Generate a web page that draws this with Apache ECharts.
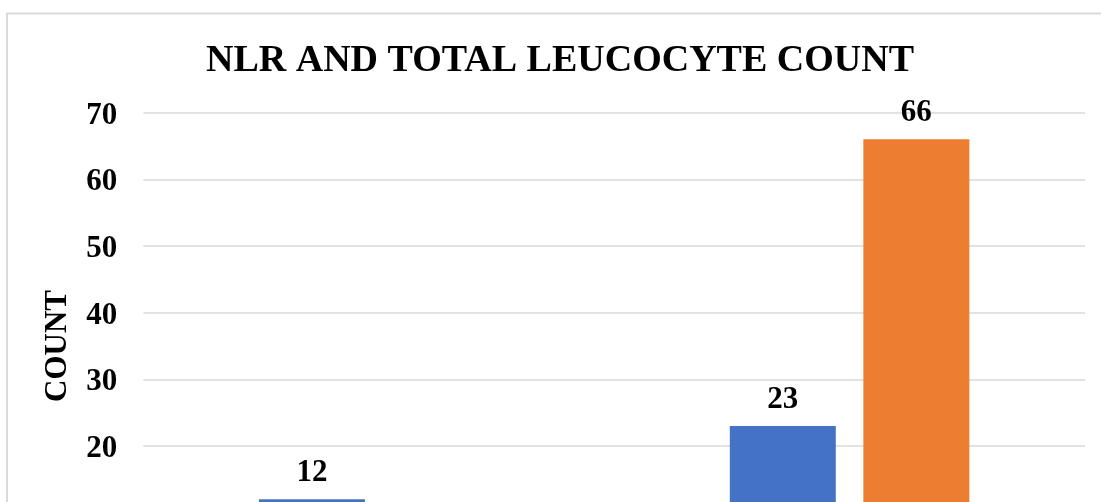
<!DOCTYPE html>
<html>
<head>
<meta charset="utf-8">
<script src="https://cdn.jsdelivr.net/npm/echarts@6/dist/echarts.min.js"></script>
<style>
  html, body { margin: 0; padding: 0; background: #ffffff; width: 1101px; height: 502px; overflow: hidden; }
  #chart { width: 1101px; height: 760px; }
</style>
</head>
<body>
<div id="chart"></div>
<script>
// Counts of patients by NLR group, split by total leucocyte count
const categories = ['NLR < 3', 'NLR ≥ 3'];
const normalTlc = [12, 23];
const raisedTlc = [5, 66];
const seriesNames = ['NORMAL TLC', 'RAISED TLC'];
const yTicks = { min: 0, max: 70, interval: 10 };

const serif = "'Times New Roman', 'Liberation Serif', serif";
const boldText = { fontFamily: serif, fontWeight: 'bold', fontSize: 31, color: '#000000' };

const chart = echarts.init(document.getElementById('chart'), null, { renderer: 'canvas' });

const valueLabel = {
  show: true,
  position: 'top',
  distance: 11,
  fontFamily: serif,
  fontWeight: 'bold',
  fontSize: 31,
  color: '#000000'
};

chart.setOption({
  animation: false,
  backgroundColor: '#ffffff',
  title: {
    text: 'NLR AND TOTAL LEUCOCYTE COUNT',
    left: 555,
    top: 37,
    textAlign: 'center',
    textStyle: { fontFamily: serif, fontWeight: 'bold', fontSize: 38, color: '#000000' }
  },
  graphic: [{
    type: 'rect',
    silent: true,
    z: -1,
    shape: { x: 7, y: 13.5, width: 1300, height: 900 },
    style: { fill: 'none', stroke: '#d9d9d9', lineWidth: 2 }
  }],
  // the plot runs on below the visible window, down to the zero line
  grid: { left: 143.3, right: 16, top: 112.7, bottom: 180.7, containLabel: false },
  xAxis: {
    type: 'category',
    data: categories,
    axisTick: { show: false },
    axisLine: { lineStyle: { color: '#d9d9d9' } },
    axisLabel: boldText
  },
  yAxis: {
    type: 'value',
    min: yTicks.min,
    max: yTicks.max,
    interval: yTicks.interval,
    name: 'COUNT',
    nameLocation: 'middle',
    nameGap: 70,
    nameTextStyle: boldText,
    axisLine: { show: false },
    axisTick: { show: false },
    axisLabel: Object.assign({
      margin: 26,
      formatter: '{v|{value}}',
      rich: { v: Object.assign({ padding: [6, 0, 0, 0] }, boldText) }
    }, boldText),
    splitLine: { lineStyle: { color: '#d9d9d9', width: 1.5 } }
  },
  series: [
    {
      name: seriesNames[0],
      type: 'bar',
      data: normalTlc,
      barWidth: 106,
      barGap: '26%',
      itemStyle: { color: '#4472C4' },
      label: valueLabel
    },
    {
      name: seriesNames[1],
      type: 'bar',
      data: raisedTlc,
      barWidth: 106,
      barGap: '26%',
      itemStyle: { color: '#ED7D31' },
      label: valueLabel
    }
  ]
});
</script>
</body>
</html>
